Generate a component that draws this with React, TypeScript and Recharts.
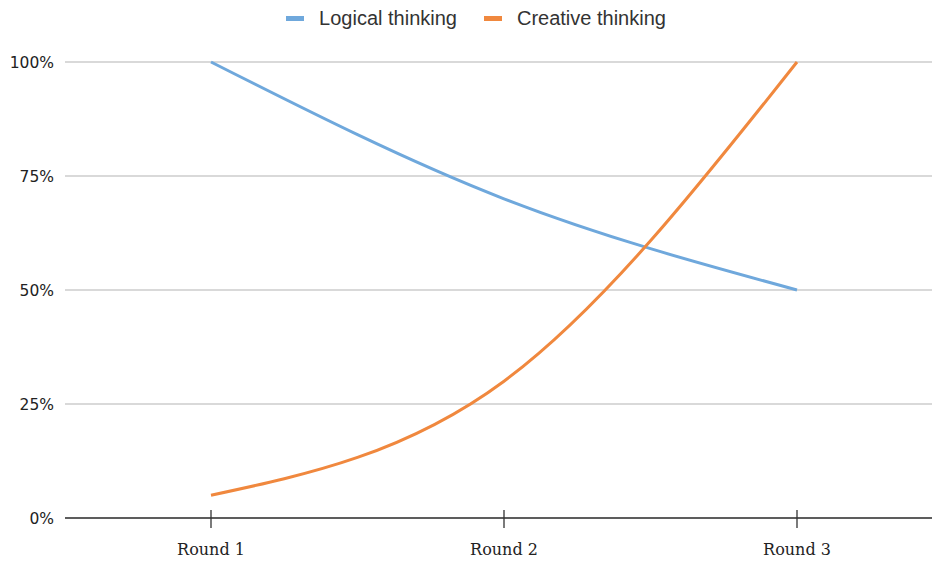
import React from "react";
import { LineChart, Line, XAxis, YAxis, CartesianGrid, Legend } from "recharts";

const rounds = ["Round 1", "Round 2", "Round 3"];
const logical = [100, 70, 50];
const creative = [5, 30, 100];
const yTicks = [0, 25, 50, 75, 100];

const data = rounds.map((r, i) => ({ round: r, logical: logical[i], creative: creative[i] }));

const BLUE = "#6fa8dc";
const ORANGE = "#f0883e";

const XTick = (props: any) => {
  const { x, y, payload } = props;
  return (
    <g>
      <line x1={x} y1={y - 8} x2={x} y2={y + 10} stroke="#333" strokeWidth={1.3} />
      <text x={x} y={y + 37} textAnchor="middle" fontFamily="DejaVu Serif" fontSize={16} fill="#222">
        {payload.value}
      </text>
    </g>
  );
};

const LegendContent = () => (
  <div style={{ display: "flex", justifyContent: "center", alignItems: "center", fontFamily: "Liberation Sans", fontSize: 20, color: "#333" }}>
    <span style={{ display: "inline-block", width: 18, height: 5, background: BLUE, marginRight: 15 }} />
    <span style={{ marginRight: 27 }}>Logical thinking</span>
    <span style={{ display: "inline-block", width: 18, height: 5, background: ORANGE, marginRight: 15 }} />
    <span>Creative thinking</span>
  </div>
);

export default function App() {
  return (
    <div style={{ position: "fixed", left: 0, top: 0, width: 932, height: 563, overflow: "hidden", background: "#fff" }}>
      <LineChart width={932} height={563} data={data} margin={{ top: 30, right: 0, bottom: 0, left: 0 }}>
        <Legend verticalAlign="top" height={32} content={<LegendContent />} wrapperStyle={{ top: 7, left: 10 }} />
        <CartesianGrid vertical={false} stroke="#cccccc" strokeWidth={1.3} />
        <XAxis
          dataKey="round"
          height={45}
          padding={{ left: 146, right: 135 }}
          axisLine={{ stroke: "#333", strokeWidth: 1.5 }}
          tickLine={false}
          tickSize={0}
          tickMargin={0}
          tick={<XTick />}
          interval={0}
        />
        <YAxis
          width={65}
          domain={[0, 100]}
          ticks={yTicks}
          axisLine={false}
          tickLine={false}
          tickSize={0}
          tickMargin={11}
          tickFormatter={(v: number) => `${v}%`}
          tick={{ fontFamily: "DejaVu Sans", fontSize: 15.5, fill: "#222" }}
        />
        <Line type="monotone" dataKey="logical" stroke={BLUE} strokeWidth={3} dot={false} isAnimationActive={false} />
        <Line type="monotone" dataKey="creative" stroke={ORANGE} strokeWidth={3} dot={false} isAnimationActive={false} />
      </LineChart>
    </div>
  );
}
